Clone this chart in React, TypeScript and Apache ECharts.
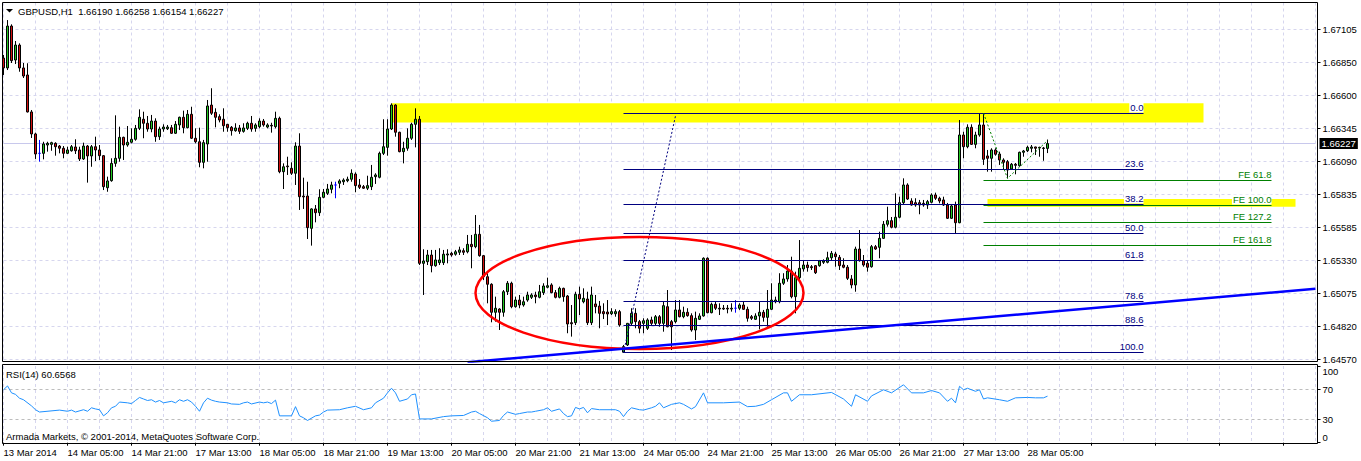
import React, { useEffect, useRef } from 'react';
import * as echarts from 'echarts';

const FONT = '"Liberation Sans", Arial, sans-serif';
const FS = 9.5;

const symbol = 'GBPUSD';
const timeframe = 'H1';

// hourly candles, 13 Mar 2014 13:00 .. 28 Mar 2014 10:00
const opens = [
  1.66884, 1.66808, 1.67130, 1.66869, 1.66984, 1.66808, 1.66754, 1.66470, 1.66301, 1.66152,
  1.66152, 1.66216, 1.66221, 1.66229, 1.66208, 1.66191, 1.66152, 1.66172, 1.66201, 1.66178,
  1.66109, 1.66208, 1.66132, 1.66203, 1.66178, 1.66134, 1.65888, 1.65942, 1.66075, 1.66114,
  1.66275, 1.66216, 1.66237, 1.66260, 1.66344, 1.66414, 1.66383, 1.66339, 1.66400, 1.66280,
  1.66339, 1.66341, 1.66349, 1.66306, 1.66370, 1.66429, 1.66349, 1.66452, 1.66268, 1.66241,
  1.66083, 1.66224, 1.66523, 1.66467, 1.66434, 1.66414, 1.66375, 1.66352, 1.66326, 1.66347,
  1.66321, 1.66344, 1.66383, 1.66344, 1.66357, 1.66400, 1.66354, 1.66367, 1.66357, 1.66421,
  1.66011, 1.66055, 1.66037, 1.65999, 1.66208, 1.65824, 1.65824, 1.65576, 1.65725, 1.65696,
  1.65814, 1.65845, 1.65876, 1.65909, 1.65922, 1.65934, 1.65942, 1.65953, 1.65993, 1.65909,
  1.65896, 1.65884, 1.65896, 1.65973, 1.65968, 1.66152, 1.66198, 1.66339, 1.66523, 1.66314,
  1.66165, 1.66191, 1.66268, 1.66375, 1.66414, 1.65307, 1.65320, 1.65371, 1.65289, 1.65312,
  1.65312, 1.65371, 1.65384, 1.65377, 1.65392, 1.65404, 1.65396, 1.65453, 1.65435, 1.65530,
  1.65366, 1.65204, 1.65146, 1.64931, 1.64956, 1.64931, 1.65089, 1.65154, 1.64974, 1.65025,
  1.64987, 1.65025, 1.65046, 1.65064, 1.65046, 1.65082, 1.65123, 1.65141, 1.65082, 1.65046,
  1.65115, 1.65056, 1.64851, 1.64851, 1.65069, 1.65012, 1.65033, 1.64851, 1.64995, 1.64979,
  1.64936, 1.64933, 1.64920, 1.64920, 1.64936, 1.64624, 1.64680, 1.64846, 1.64923, 1.64859,
  1.64846, 1.64808, 1.64872, 1.64846, 1.64897, 1.64846, 1.64974, 1.64859, 1.64859, 1.64949,
  1.64897, 1.64931, 1.64905, 1.64795, 1.64877, 1.64903, 1.65346, 1.64928, 1.64992, 1.64962,
  1.64962, 1.64962, 1.64956, 1.64962, 1.64962, 1.64987, 1.64954, 1.64897, 1.64877, 1.64903,
  1.64931, 1.64892, 1.64954, 1.65012, 1.65012, 1.65154, 1.65187, 1.65248, 1.65051, 1.65197,
  1.65264, 1.65294, 1.65281, 1.65289, 1.65289, 1.65315, 1.65315, 1.65350, 1.65379, 1.65353,
  1.65294, 1.65277, 1.65187, 1.65141, 1.65417, 1.65327, 1.65307, 1.65281, 1.65435, 1.65430,
  1.65499, 1.65607, 1.65635, 1.65584, 1.65661, 1.65773, 1.65909, 1.65786, 1.65773, 1.65773,
  1.65768, 1.65755, 1.65776, 1.65832, 1.65807, 1.65794, 1.65755, 1.65653, 1.65755, 1.65619,
  1.66293, 1.66203, 1.66352, 1.66221, 1.66293, 1.66370, 1.66132, 1.66114, 1.66178, 1.66147,
  1.66101, 1.66088, 1.66032, 1.66068, 1.66057, 1.66160, 1.66172, 1.66191, 1.66201, 1.66198,
  1.66193, 1.66190,
];
const closes = [
  1.66808, 1.67130, 1.66864, 1.66984, 1.66808, 1.66746, 1.66470, 1.66301, 1.66147, 1.66152,
  1.66224, 1.66229, 1.66234, 1.66203, 1.66191, 1.66152, 1.66178, 1.66203, 1.66172, 1.66109,
  1.66208, 1.66132, 1.66203, 1.66178, 1.66134, 1.65896, 1.65940, 1.66075, 1.66114, 1.66275,
  1.66216, 1.66237, 1.66260, 1.66344, 1.66429, 1.66383, 1.66339, 1.66400, 1.66280, 1.66339,
  1.66354, 1.66354, 1.66306, 1.66375, 1.66429, 1.66349, 1.66452, 1.66268, 1.66241, 1.66083,
  1.66234, 1.66516, 1.66460, 1.66429, 1.66408, 1.66364, 1.66349, 1.66326, 1.66347, 1.66321,
  1.66347, 1.66383, 1.66339, 1.66370, 1.66400, 1.66370, 1.66370, 1.66362, 1.66421, 1.66011,
  1.66049, 1.66049, 1.65999, 1.66208, 1.65819, 1.65817, 1.65581, 1.65725, 1.65696, 1.65814,
  1.65853, 1.65878, 1.65909, 1.65909, 1.65940, 1.65947, 1.65953, 1.65999, 1.65904, 1.65891,
  1.65884, 1.65904, 1.65968, 1.65986, 1.66152, 1.66203, 1.66339, 1.66523, 1.66314, 1.66165,
  1.66191, 1.66268, 1.66375, 1.66414, 1.65307, 1.65325, 1.65371, 1.65289, 1.65333, 1.65333,
  1.65377, 1.65379, 1.65371, 1.65396, 1.65410, 1.65392, 1.65453, 1.65435, 1.65530, 1.65366,
  1.65204, 1.65146, 1.64931, 1.64962, 1.64931, 1.65089, 1.65154, 1.64974, 1.65025, 1.64987,
  1.65012, 1.65064, 1.65064, 1.65051, 1.65089, 1.65133, 1.65135, 1.65082, 1.65046, 1.65115,
  1.65051, 1.64841, 1.64843, 1.65069, 1.65033, 1.65038, 1.64851, 1.65064, 1.64974, 1.64923,
  1.64920, 1.64918, 1.64936, 1.64936, 1.64833, 1.64667, 1.64846, 1.64923, 1.64859, 1.64808,
  1.64866, 1.64872, 1.64846, 1.64897, 1.64846, 1.64982, 1.64820, 1.64820, 1.64949, 1.64897,
  1.64931, 1.64905, 1.64795, 1.64885, 1.64903, 1.65346, 1.64928, 1.64992, 1.64962, 1.64956,
  1.64956, 1.64956, 1.64962, 1.64962, 1.64987, 1.64954, 1.64885, 1.64885, 1.64903, 1.64931,
  1.64892, 1.64954, 1.65025, 1.65025, 1.65154, 1.65187, 1.65248, 1.65051, 1.65197, 1.65269,
  1.65294, 1.65274, 1.65274, 1.65235, 1.65325, 1.65325, 1.65350, 1.65384, 1.65358, 1.65289,
  1.65277, 1.65192, 1.65141, 1.65417, 1.65327, 1.65294, 1.65277, 1.65435, 1.65417, 1.65499,
  1.65607, 1.65635, 1.65584, 1.65661, 1.65773, 1.65909, 1.65801, 1.65755, 1.65755, 1.65755,
  1.65755, 1.65781, 1.65832, 1.65807, 1.65786, 1.65755, 1.65653, 1.65748, 1.65619, 1.66293,
  1.66203, 1.66352, 1.66221, 1.66293, 1.66370, 1.66106, 1.66114, 1.66178, 1.66145, 1.66101,
  1.66083, 1.66024, 1.66068, 1.66060, 1.66160, 1.66170, 1.66198, 1.66201, 1.66191, 1.66193,
  1.66190, 1.66227,
];
const lows = [
  1.66754, 1.66792, 1.66846, 1.66838, 1.66779, 1.66731, 1.66466, 1.66270, 1.66109, 1.66088,
  1.66106, 1.66165, 1.66172, 1.66134, 1.66152, 1.66114, 1.66147, 1.66165, 1.66147, 1.66093,
  1.66101, 1.65927, 1.66049, 1.66093, 1.66101, 1.65870, 1.65857, 1.65934, 1.66049, 1.66088,
  1.66101, 1.66203, 1.66229, 1.66249, 1.66331, 1.66268, 1.66318, 1.66314, 1.66241, 1.66255,
  1.66318, 1.66331, 1.66301, 1.66301, 1.66331, 1.66306, 1.66344, 1.66262, 1.66229, 1.66045,
  1.66037, 1.66088, 1.66447, 1.66352, 1.66390, 1.66318, 1.66318, 1.66288, 1.66318, 1.66301,
  1.66311, 1.66331, 1.66318, 1.66318, 1.66344, 1.66357, 1.66344, 1.66311, 1.66344, 1.65999,
  1.65878, 1.65986, 1.65986, 1.65909, 1.65717, 1.65725, 1.65494, 1.65443, 1.65622, 1.65671,
  1.65807, 1.65832, 1.65845, 1.65807, 1.65884, 1.65909, 1.65930, 1.65934, 1.65853, 1.65878,
  1.65878, 1.65870, 1.65870, 1.65917, 1.65960, 1.66139, 1.66134, 1.66331, 1.66280, 1.66160,
  1.66075, 1.66172, 1.66255, 1.66198, 1.65294, 1.65064, 1.65294, 1.65238, 1.65281, 1.65294,
  1.65294, 1.65307, 1.65358, 1.65366, 1.65371, 1.65371, 1.65384, 1.65269, 1.65423, 1.65358,
  1.65179, 1.65000, 1.64854, 1.64859, 1.64795, 1.64897, 1.65064, 1.64962, 1.64966, 1.64962,
  1.64974, 1.65012, 1.65033, 1.65000, 1.65038, 1.65064, 1.65115, 1.65077, 1.65038, 1.65038,
  1.65012, 1.64770, 1.64744, 1.64833, 1.64910, 1.65000, 1.64833, 1.64833, 1.64923, 1.64808,
  1.64879, 1.64833, 1.64910, 1.64897, 1.64820, 1.64621, 1.64672, 1.64833, 1.64808, 1.64770,
  1.64770, 1.64795, 1.64833, 1.64833, 1.64820, 1.64782, 1.64816, 1.64641, 1.64846, 1.64892,
  1.64885, 1.64897, 1.64782, 1.64718, 1.64872, 1.64897, 1.64923, 1.64923, 1.64949, 1.64910,
  1.64949, 1.64923, 1.64936, 1.64928, 1.64949, 1.64949, 1.64859, 1.64872, 1.64872, 1.64800,
  1.64859, 1.64820, 1.64949, 1.65000, 1.65000, 1.65141, 1.65166, 1.65038, 1.64923, 1.65179,
  1.65243, 1.65243, 1.65256, 1.65225, 1.65281, 1.65302, 1.65307, 1.65333, 1.65281, 1.65256,
  1.65269, 1.65179, 1.65115, 1.65089, 1.65320, 1.65281, 1.65243, 1.65274, 1.65410, 1.65346,
  1.65494, 1.65589, 1.65576, 1.65576, 1.65653, 1.65755, 1.65794, 1.65750, 1.65742, 1.65684,
  1.65742, 1.65725, 1.65768, 1.65794, 1.65768, 1.65748, 1.65648, 1.65648, 1.65538, 1.65615,
  1.66114, 1.66191, 1.66216, 1.66191, 1.66280, 1.66063, 1.66011, 1.66011, 1.66134, 1.66063,
  1.66024, 1.65960, 1.66024, 1.65991, 1.66049, 1.66126, 1.66162, 1.66160, 1.66139, 1.66126,
  1.66095, 1.66154,
];
const highs = [
  1.66908, 1.67176, 1.67143, 1.67015, 1.66997, 1.66846, 1.66844, 1.66485, 1.66311, 1.66255,
  1.66241, 1.66241, 1.66241, 1.66237, 1.66216, 1.66208, 1.66203, 1.66216, 1.66260, 1.66203,
  1.66234, 1.66216, 1.66216, 1.66280, 1.66216, 1.66139, 1.65973, 1.66114, 1.66444, 1.66357,
  1.66280, 1.66362, 1.66344, 1.66370, 1.66490, 1.66472, 1.66439, 1.66447, 1.66421, 1.66357,
  1.66375, 1.66370, 1.66370, 1.66400, 1.66434, 1.66480, 1.66485, 1.66510, 1.66344, 1.66349,
  1.66255, 1.66562, 1.66652, 1.66498, 1.66452, 1.66498, 1.66377, 1.66362, 1.66383, 1.66370,
  1.66383, 1.66395, 1.66439, 1.66383, 1.66421, 1.66416, 1.66383, 1.66387, 1.66472, 1.66434,
  1.66075, 1.66126, 1.66083, 1.66237, 1.66306, 1.65965, 1.65934, 1.65730, 1.65755, 1.65876,
  1.65878, 1.65917, 1.65934, 1.65934, 1.65953, 1.65960, 1.65973, 1.66029, 1.66006, 1.65955,
  1.65909, 1.65980, 1.66063, 1.65999, 1.66165, 1.66414, 1.66414, 1.66536, 1.66529, 1.66318,
  1.66241, 1.66344, 1.66387, 1.66498, 1.66439, 1.65415, 1.65410, 1.65410, 1.65410, 1.65423,
  1.65410, 1.65415, 1.65396, 1.65410, 1.65435, 1.65423, 1.65525, 1.65525, 1.65678, 1.65602,
  1.65371, 1.65231, 1.65154, 1.65051, 1.64962, 1.65102, 1.65171, 1.65166, 1.65051, 1.65064,
  1.65051, 1.65089, 1.65077, 1.65089, 1.65141, 1.65154, 1.65197, 1.65154, 1.65102, 1.65128,
  1.65120, 1.65064, 1.64987, 1.65089, 1.65128, 1.65115, 1.65089, 1.65128, 1.65064, 1.65018,
  1.65000, 1.65025, 1.64962, 1.64954, 1.64949, 1.64680, 1.64849, 1.64962, 1.64962, 1.64872,
  1.64885, 1.64885, 1.64897, 1.64910, 1.64910, 1.65012, 1.65102, 1.64872, 1.65025, 1.65025,
  1.64974, 1.64962, 1.64923, 1.64936, 1.64923, 1.65353, 1.65353, 1.65005, 1.65012, 1.65000,
  1.64987, 1.64987, 1.65000, 1.65025, 1.65000, 1.65012, 1.64974, 1.64910, 1.64923, 1.65012,
  1.64949, 1.65102, 1.65154, 1.65051, 1.65231, 1.65231, 1.65294, 1.65358, 1.65243, 1.65486,
  1.65333, 1.65320, 1.65294, 1.65294, 1.65333, 1.65338, 1.65396, 1.65402, 1.65396, 1.65371,
  1.65346, 1.65294, 1.65217, 1.65435, 1.65563, 1.65371, 1.65333, 1.65448, 1.65448, 1.65550,
  1.65632, 1.65742, 1.65663, 1.65845, 1.65819, 1.65960, 1.65922, 1.65807, 1.65807, 1.65794,
  1.65794, 1.65794, 1.65845, 1.65850, 1.65819, 1.65819, 1.65771, 1.65763, 1.65781, 1.66408,
  1.66318, 1.66375, 1.66375, 1.66318, 1.66460, 1.66460, 1.66178, 1.66191, 1.66191, 1.66165,
  1.66114, 1.66101, 1.66078, 1.66078, 1.66165, 1.66178, 1.66211, 1.66216, 1.66203, 1.66203,
  1.66201, 1.66258,
];

const slotCount = 329;
const timeLabels = [
  '13 Mar 2014', '14 Mar 05:00', '14 Mar 21:00', '17 Mar 13:00', '18 Mar 05:00', '18 Mar 21:00',
  '19 Mar 13:00', '20 Mar 05:00', '20 Mar 21:00', '21 Mar 13:00', '24 Mar 05:00', '24 Mar 21:00',
  '25 Mar 13:00', '26 Mar 05:00', '26 Mar 21:00', '27 Mar 13:00', '28 Mar 05:00',
];
const barsPerLabel = 16;
const barsPerGridLine = 8;

const priceTicks = [1.64570, 1.64820, 1.65075, 1.65330, 1.65585, 1.65835, 1.66090, 1.66345, 1.66600, 1.66850, 1.67105];
const priceMin = 1.645529;
const priceMax = 1.673108;

const rsiBars = [
  0, 1, 2, 3, 4, 5, 7, 8, 9, 14, 16, 17, 18, 20, 21, 22, 23, 24, 25, 26, 27, 28, 29, 31, 32, 33, 34, 35, 36, 37,
  38, 39, 40, 42, 43, 44, 45, 46, 47, 48, 49, 50, 51, 52, 53, 54, 56, 57, 59, 60, 61, 62, 64, 65, 66, 67, 68, 69, 72, 73,
  74, 75, 76, 78, 79, 80, 81, 84, 86, 88, 90, 92, 93, 95, 96, 97, 98, 99, 101, 102, 103, 104, 107, 110, 112, 115, 117, 118, 119, 121,
  122, 124, 125, 126, 128, 129, 131, 132, 133, 135, 136, 137, 139, 140, 141, 142, 143, 144, 145, 146, 147, 149, 153, 154, 155, 156, 157, 159, 160, 162,
  163, 164, 165, 167, 169, 170, 172, 173, 175, 176, 180, 184, 186, 188, 190, 192, 195, 196, 197, 199, 202, 207, 210, 212, 213, 216, 217, 220, 222, 225,
  227, 230, 232, 234, 236, 237, 238, 239, 240, 241, 243, 244, 245, 246, 249, 251, 253, 256, 258, 260, 261,
];
const rsiValues = [
  69, 74, 65, 63, 58, 56, 48, 43, 40, 42.5, 41, 42.5, 40, 43, 41, 45.5, 44, 43, 35, 39, 45.5, 47.5, 53, 52, 51, 55, 59, 57, 55, 56,
  53, 55, 52, 54, 52, 56, 54, 56, 53, 47.5, 41, 52, 58, 55.5, 54, 53, 52, 50.5, 50, 52, 53, 50.5, 53, 52, 53, 51, 55.5, 35, 35, 47,
  35, 32.5, 29, 35, 36, 40, 42.5, 43, 45.5, 47.5, 43, 45.5, 52, 58, 65, 71, 65, 54, 57, 62.5, 63.5, 31, 31, 34, 35, 35.5, 40, 41, 38, 32.5,
  28, 29, 35.5, 40, 37, 38, 40, 40, 41, 43, 45.5, 41, 44, 38, 34, 35, 46, 44, 46, 39, 44.5, 43, 43, 41, 34, 41, 45.5, 43, 42.5, 45.5,
  47.5, 52, 45.5, 50, 52, 50, 44, 47, 65, 52, 52, 53, 47, 47.5, 50, 56, 65, 65, 54, 62.5, 62.5, 65.5, 57, 47.5, 62.5, 54, 61, 69, 65, 75.5,
  65, 65, 68, 65, 54, 58, 52, 73.5, 69, 71, 67, 69, 57, 58.5, 56, 54, 58.5, 59, 58.5, 58.5, 60.6568,
];
const rsiPeriod = 14;
const rsiTicks = [0, 30, 70, 100];
const rsiLevels = [30, 70];

const fibNames = ['0.0', '23.6', '38.2', '50.0', '61.8', '78.6', '88.6', '100.0'];
const fibPrices = [1.66460, 1.66029, 1.65761, 1.65538, 1.65325, 1.65012, 1.64831, 1.64621];
const fibStartBar = 155;
const fibEndBar = 285;
const fibLinkBars = [155, 168];
const fibLinkPrices = [1.64621, 1.66439];

const feNames = ['FE 61.8', 'FE 100.0', 'FE 127.2', 'FE 161.8'];
const fePrices = [1.65947, 1.65753, 1.65622, 1.65446];
const feStartBar = 245;
const feEndBar = 317;
const feLinkBars = [245, 251, 261];
const feLinkPrices = [1.66460, 1.65960, 1.66250];

const trendBars = [116, 328];
const trendPrices = [1.64548, 1.65112];

const zoneStartBars = [97, 246];
const zoneEndBars = [300, 323];
const zoneTops = [1.66537, 1.65801];
const zoneBottoms = [1.66388, 1.65742];

const ellipseCenterBar = 159;
const ellipseCenterPrice = 1.65079;
const ellipseHalfBars = 41;
const ellipseHalfPrice = 0.0043;

const lastIdx = opens.length - 1;
const lastPrice = closes[lastIdx];

const snap = (v: number) => Math.round(v - 0.5) + 0.5;

const hLineRender = (color: string, dash: number[] | null) => (params: any, api: any) => {
  const cs = params.coordSys;
  const p = api.coord([0, api.value(2)]);
  const y = snap(p[1]);
  return {
    type: 'line',
    silent: true,
    shape: { x1: cs.x, y1: y, x2: cs.x + cs.width, y2: y },
    style: { stroke: color, lineWidth: 1, lineDash: dash },
  };
};

const levelRender = (names: string[], color: string) => (params: any, api: any) => {
  const s = api.coord([api.value(0), api.value(2)]);
  const e = api.coord([api.value(1), api.value(2)]);
  const y = snap(s[1]);
  return {
    type: 'group',
    children: [
      { type: 'line', shape: { x1: s[0], y1: y, x2: e[0], y2: y }, style: { stroke: color, lineWidth: 1 } },
      {
        type: 'text',
        x: e[0],
        y: y - 1,
        style: {
          text: names[params.dataIndex],
          fill: color,
          fontSize: FS,
          fontFamily: FONT,
          align: 'right',
          verticalAlign: 'bottom',
          backgroundColor: '#ffffff',
          padding: [0, 0, 0, 1],
        },
      },
    ],
  };
};

function buildOption(): any {
  const slots = Array.from({ length: slotCount }, (_, i) => String(i));
  const candleData = opens.map((o, i) => [o, closes[i], lows[i], highs[i]]);
  const fmt = (v: number) => v.toFixed(5);
  const gridLineStyle = { color: '#d6d6ee', type: [3, 3], width: 1 };

  const xBase = {
    type: 'category',
    data: slots,
    boundaryGap: false,
    axisLine: { show: false },
    splitLine: { show: true, interval: barsPerGridLine - 1, lineStyle: gridLineStyle },
  };

  return {
    animation: false,
    backgroundColor: '#ffffff',
    grid: [
      { left: 3.5, top: 2.5, width: 1312, height: 359 },
      { left: 3.5, top: 366, width: 1312, height: 76.7 },
    ],
    xAxis: [
      { ...xBase, gridIndex: 0, axisTick: { show: false }, axisLabel: { show: false } },
      {
        ...xBase,
        gridIndex: 1,
        axisTick: { show: true, interval: barsPerLabel - 1, length: 3, lineStyle: { color: '#000' } },
        axisLabel: {
          show: true,
          interval: barsPerLabel - 1,
          align: 'left',
          margin: 5,
          color: '#000',
          fontSize: FS,
          fontFamily: FONT,
          formatter: (_v: string, idx: number) => (idx % barsPerLabel === 0 ? timeLabels[idx / barsPerLabel] ?? '' : ''),
        },
      },
    ],
    yAxis: [
      {
        type: 'value',
        gridIndex: 0,
        position: 'right',
        offset: 2,
        min: priceMin,
        max: priceMax,
        axisLine: { show: false },
        splitLine: { show: false },
        axisTick: { show: true, length: 3, customValues: priceTicks, lineStyle: { color: '#000' } },
        axisLabel: {
          customValues: priceTicks,
          formatter: (v: number) => fmt(v),
          color: '#000',
          fontSize: FS,
          fontFamily: FONT,
          margin: 5,
        },
      },
      {
        type: 'value',
        gridIndex: 1,
        position: 'right',
        offset: 2,
        min: 0,
        max: 100,
        axisLine: { show: false },
        splitLine: { show: false },
        axisTick: { show: true, length: 3, customValues: rsiTicks, lineStyle: { color: '#000' } },
        axisLabel: {
          customValues: rsiTicks,
          color: '#000',
          fontSize: FS,
          fontFamily: FONT,
          margin: 5,
          verticalAlignMinLabel: 'bottom',
          verticalAlignMaxLabel: 'top',
        },
      },
    ],
    graphic: [
      { type: 'rect', z: 100, silent: true, shape: { x: 2.5, y: 2.5, width: 1315, height: 359 }, style: { fill: 'none', stroke: '#000', lineWidth: 1 } },
      { type: 'rect', z: 100, silent: true, shape: { x: 2.5, y: 364.5, width: 1315, height: 79 }, style: { fill: 'none', stroke: '#000', lineWidth: 1 } },
      { type: 'polygon', z: 100, silent: true, shape: { points: [[6, 9], [13, 9], [9.5, 12.5]] }, style: { fill: '#000' } },
      {
        type: 'text', z: 100, silent: true, x: 18, y: 11,
        style: {
          text: `${symbol},${timeframe}  ${fmt(opens[lastIdx])} ${fmt(highs[lastIdx])} ${fmt(lows[lastIdx])} ${fmt(closes[lastIdx])}`,
          fill: '#000', fontSize: FS, fontFamily: FONT, verticalAlign: 'middle',
        },
      },
      {
        type: 'text', z: 100, silent: true, x: 6, y: 374.5,
        style: { text: `RSI(${rsiPeriod}) ${rsiValues[rsiValues.length - 1].toFixed(4)}`, fill: '#000', fontSize: FS, fontFamily: FONT, verticalAlign: 'middle' },
      },
      {
        type: 'text', z: 100, silent: true, x: 6, y: 436,
        style: { text: 'Armada Markets, © 2001-2014, MetaQuotes Software Corp.', fill: '#000', fontSize: FS, fontFamily: FONT, verticalAlign: 'middle' },
      },
    ],
    series: [
      {
        type: 'custom', name: 'gridH', xAxisIndex: 0, yAxisIndex: 0, z: 0, silent: true,
        encode: { x: [0, 1], y: 2 },
        data: priceTicks.map((p) => [0, slotCount - 1, p]),
        renderItem: hLineRender('#d6d6ee', [3, 3]),
      },
      {
        type: 'custom', name: 'priceLine', xAxisIndex: 0, yAxisIndex: 0, z: 0, silent: true,
        encode: { x: [0, 1], y: 2 },
        data: [[0, slotCount - 1, lastPrice]],
        renderItem: (params: any, api: any) => {
          const cs = params.coordSys;
          const p = api.coord([0, api.value(2)]);
          const y = snap(p[1]);
          return {
            type: 'group',
            children: [
              { type: 'line', shape: { x1: cs.x, y1: y, x2: cs.x + cs.width, y2: y }, style: { stroke: '#c8c8ec', lineWidth: 1 } },
              {
                type: 'text', x: cs.x + cs.width + 4, y: y,
                style: {
                  text: fmt(api.value(2)), fill: '#fff', backgroundColor: '#000', padding: [1, 2, 0, 2],
                  fontSize: FS, fontFamily: FONT, verticalAlign: 'middle', align: 'left',
                },
              },
            ],
          };
        },
      },
      {
        type: 'custom', name: 'zones', xAxisIndex: 0, yAxisIndex: 0, z: 1, silent: true,
        encode: { x: [0, 1], y: [2, 3] },
        data: zoneStartBars.map((s, i) => [s, zoneEndBars[i], zoneTops[i], zoneBottoms[i]]),
        renderItem: (_params: any, api: any) => {
          const a = api.coord([api.value(0), api.value(2)]);
          const b = api.coord([api.value(1), api.value(3)]);
          return { type: 'rect', shape: { x: a[0], y: a[1], width: b[0] - a[0], height: b[1] - a[1] }, style: { fill: '#ffff00' } };
        },
      },
      {
        type: 'candlestick', name: symbol, xAxisIndex: 0, yAxisIndex: 0, z: 2,
        barWidth: 2, clip: false,
        data: candleData,
        itemStyle: {
          color: '#22c822', color0: '#d01010',
          borderColor: '#000', borderColor0: '#000', borderColorDoji: '#0000ff', borderWidth: 1,
        },
      },
      {
        type: 'custom', name: 'fibo', xAxisIndex: 0, yAxisIndex: 0, z: 3, silent: true,
        encode: { x: [0, 1], y: 2 },
        data: fibPrices.map((p) => [fibStartBar, fibEndBar, p]),
        renderItem: levelRender(fibNames, '#000080'),
      },
      {
        type: 'custom', name: 'expansion', xAxisIndex: 0, yAxisIndex: 0, z: 3, silent: true,
        encode: { x: [0, 1], y: 2 },
        data: fePrices.map((p) => [feStartBar, feEndBar, p]),
        renderItem: levelRender(feNames, '#008000'),
      },
      {
        type: 'line', name: 'fiboLink', xAxisIndex: 0, yAxisIndex: 0, z: 3, silent: true,
        showSymbol: false, symbol: 'none',
        data: fibLinkBars.map((b, i) => [b, fibLinkPrices[i]]),
        lineStyle: { color: '#000080', width: 1, type: [2, 2] },
      },
      {
        type: 'line', name: 'expLink', xAxisIndex: 0, yAxisIndex: 0, z: 3, silent: true,
        showSymbol: false, symbol: 'none',
        data: feLinkBars.map((b, i) => [b, feLinkPrices[i]]),
        lineStyle: { color: '#008000', width: 1, type: [2, 2] },
      },
      {
        type: 'line', name: 'trend', xAxisIndex: 0, yAxisIndex: 0, z: 4, silent: true,
        showSymbol: false, symbol: 'none', clip: true,
        data: trendBars.map((b, i) => [b, trendPrices[i]]),
        lineStyle: { color: '#0000ff', width: 2.5 },
      },
      {
        type: 'custom', name: 'ellipse', xAxisIndex: 0, yAxisIndex: 0, z: 4, silent: true,
        encode: { x: 0, y: 1 },
        data: [[ellipseCenterBar, ellipseCenterPrice, ellipseHalfBars, ellipseHalfPrice]],
        renderItem: (_params: any, api: any) => {
          const c = api.coord([api.value(0), api.value(1)]);
          const lt = api.coord([api.value(0) - api.value(2), api.value(1) + api.value(3)]);
          return {
            type: 'ellipse',
            shape: { cx: c[0], cy: c[1], rx: c[0] - lt[0], ry: c[1] - lt[1] },
            style: { fill: 'none', stroke: '#ff0000', lineWidth: 2.5 },
          };
        },
      },
      {
        type: 'custom', name: 'rsiLevels', xAxisIndex: 1, yAxisIndex: 1, z: 0, silent: true,
        encode: { x: [0, 1], y: 2 },
        data: rsiLevels.map((v) => [0, slotCount - 1, v]),
        renderItem: hLineRender('#bdbdbd', [3, 3]),
      },
      {
        type: 'line', name: 'RSI', xAxisIndex: 1, yAxisIndex: 1, z: 3, silent: true,
        showSymbol: false, symbol: 'none',
        data: rsiBars.map((b, i) => [b, rsiValues[i]]),
        lineStyle: { color: '#1e90ff', width: 1 },
      },
    ],
  };
}

export default function App() {
  const ref = useRef<HTMLDivElement>(null);
  useEffect(() => {
    if (!ref.current) return;
    const chart = echarts.init(ref.current, null, { renderer: 'svg' });
    chart.setOption(buildOption());
    return () => chart.dispose();
  }, []);
  return (
    <div
      ref={ref}
      style={{ position: 'absolute', left: 0, top: 0, width: 1361, height: 461, background: '#fff' }}
    />
  );
}
